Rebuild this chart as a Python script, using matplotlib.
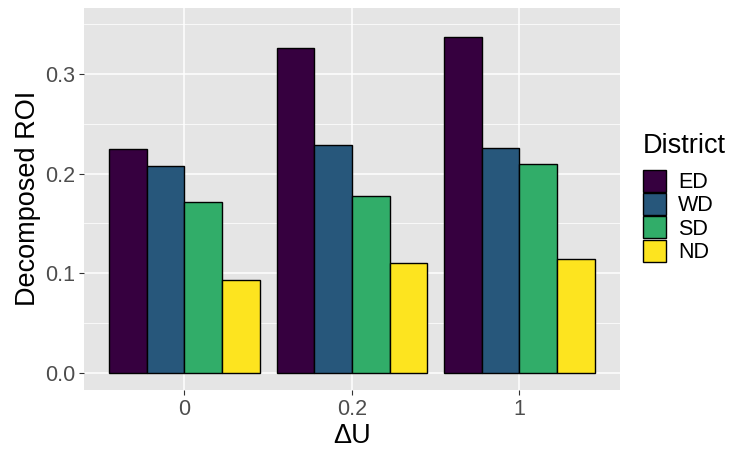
import matplotlib
matplotlib.use('Agg')
import matplotlib.pyplot as plt
import numpy as np

plt.rcParams['font.family'] = ['Liberation Sans', 'DejaVu Sans']

delta_u = ['0', '0.2', '1']
districts = ['ED', 'WD', 'SD', 'ND']
roi = {
    'ED': [0.225, 0.326, 0.337],
    'WD': [0.208, 0.229, 0.226],
    'SD': [0.172, 0.178, 0.210],
    'ND': [0.093, 0.110, 0.114],
}
colors = ['#36003F', '#27577B', '#31AD69', '#FDE41F']

fig = plt.figure(figsize=(7.33, 4.51), dpi=100)
ax = fig.add_axes([0.1146, 0.1353, 0.7312, 0.8477])
ax.set_facecolor('#E5E5E5')

x = np.arange(len(delta_u))
width = 0.225
handles = []
for i, d in enumerate(districts):
    offs = (i - 1.5) * width
    b = ax.bar(x + offs, roi[d], width, color=colors[i], edgecolor='black',
               linewidth=1.0, zorder=3, label=d)
    handles.append(b)

ax.set_xlim(-0.6, 2.6)
ax.set_ylim(-0.0174, 0.3668)

ax.set_xticks(x)
ax.set_xticklabels(delta_u)
ax.set_yticks([0.0, 0.1, 0.2, 0.3])
ax.set_yticklabels(['0.0', '0.1', '0.2', '0.3'])
ax.set_yticks([0.05, 0.15, 0.25, 0.35], minor=True)

ax.grid(which='major', color='white', linewidth=1.1, zorder=0)
ax.grid(which='minor', axis='y', color='white', linewidth=0.55, zorder=0)
ax.set_axisbelow(True)
for s in ax.spines.values():
    s.set_visible(False)

ax.tick_params(axis='both', which='major', length=3.5, width=0.8,
               color='#333333', labelcolor='#4D4D4D', labelsize=15.5, pad=3)
ax.tick_params(axis='both', which='minor', length=0)

ax.set_xlabel('\u0394U', fontsize=19.5, labelpad=2)
ax.set_ylabel('Decomposed ROI', fontsize=19.5, labelpad=3)

leg = fig.legend(handles=handles, labels=districts, title='District',
                 loc='upper left', bbox_to_anchor=(0.862, 0.73),
                 frameon=False, fontsize=15.5, title_fontsize=19.5,
                 handlelength=1.1, handleheight=1.2, labelspacing=0.0,
                 handletextpad=0.55, alignment='left', borderpad=0)
leg._legend_box.sep = 8

fig.savefig('out.png', dpi=100)
